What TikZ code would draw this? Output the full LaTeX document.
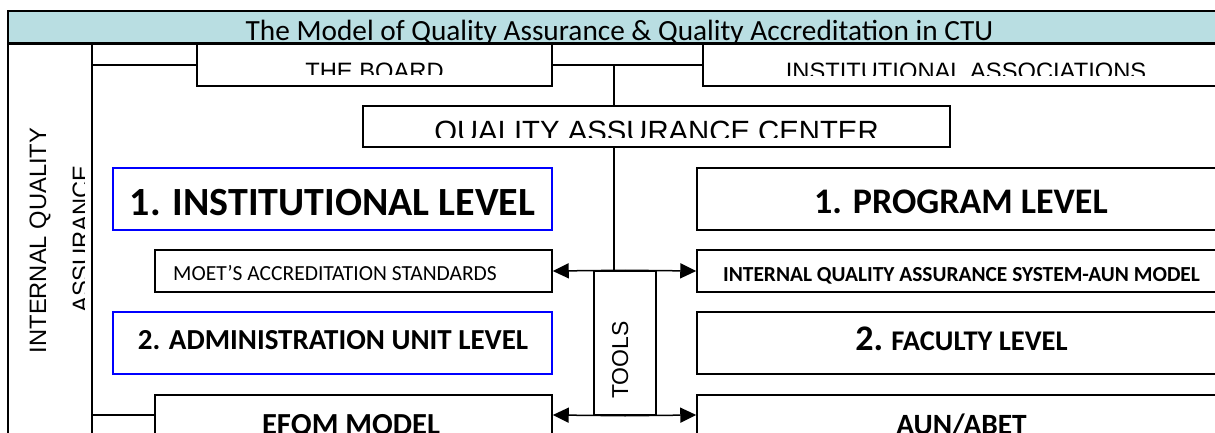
\documentclass[tikz,border=0pt]{standalone}
\usepackage{fontspec}
\setmainfont{Carlito}
\newfontfamily\arialf{Liberation Sans}
\usetikzlibrary{arrows.meta}
\definecolor{titlefill}{RGB}{185,222,226}
\definecolor{boxblue}{RGB}{0,0,255}
\begin{document}
\begin{tikzpicture}[x=1pt,y=-1pt,
  bx/.style={draw=black, line width=1.5pt, inner sep=0pt, fill=white},
  bluebx/.style={bx, draw=boxblue},
  ln/.style={line width=1.5pt},
  arr/.style={line width=1.5pt, -{Triangle[length=16pt,width=15pt]}},
  txt/.style={inner sep=0pt, anchor=base},
  arialtxt/.style={txt, font=\arialf\fontsize{23.7}{28}\selectfont},
  boldtxt/.style={txt, font=\bfseries\fontsize{#1}{#1}\selectfont},
]
\useasboundingbox (0,0) rectangle (1215,433);
\clip (0,0) rectangle (1215,433);

% title bar
\node[draw, line width=1.5pt, fill=titlefill, minimum width=1223pt, minimum height=32pt, inner sep=0pt] (title) at (619.5,27) {};
\draw[line width=3pt] (title.south west) -- (title.south east);
\begin{scope}
\clip (8,11) rectangle (1231,42);
\node[txt, font=\fontsize{29.3}{32}\selectfont] (ttitle) at (619.5,41) {The Model of Quality Assurance \& Quality Accreditation in CTU};
\end{scope}

% left column
\node[bx, fill=none, minimum width=84pt, minimum height=400pt] (leftcol) at (50,243) {};
\begin{scope}
\clip (8,43) rectangle (92,433);
\node[arialtxt, rotate=90] (tiqa1) at (46,240.5) {INTERNAL QUALITY};
\end{scope}
\begin{scope}
\clip (8,43) rectangle (84,433);
\node[arialtxt, rotate=90] (tiqa2) at (89,239) {ASSURANCE};
\end{scope}

% top boxes
\node[bx, minimum width=355pt, minimum height=42pt] (board) at (374.5,65) {};
\begin{scope}
\clip (197,44) rectangle (552,75);
\node[arialtxt] (tboard) at (374.5,80) {THE BOARD};
\end{scope}

\node[bx, minimum width=528pt, minimum height=42pt] (assoc) at (967,65) {};
\begin{scope}
\clip (703,44) rectangle (1231,76);
\node[arialtxt] (tassoc) at (966,80) {INSTITUTIONAL ASSOCIATIONS};
\end{scope}

\node[bx, minimum width=587pt, minimum height=41pt] (qac) at (656.5,126.5) {};
\begin{scope}
\clip (363,106) rectangle (950,138);
\node[txt, font=\arialf\fontsize{29.3}{32}\selectfont] (tqac) at (656.5,142) {QUALITY ASSURANCE CENTER};
\end{scope}

% level boxes
\node[bluebx, minimum width=439pt, minimum height=62pt] (inst) at (332.5,199) {};
\node[boldtxt=40] (tinst) at (332.5,215) {1. INSTITUTIONAL LEVEL};

\node[bx, minimum width=529pt, minimum height=62pt] (prog) at (961.5,199) {};
\node[boldtxt=36] (tprog) at (961,213) {1. PROGRAM LEVEL};

\node[bx, minimum width=397pt, minimum height=42pt] (moet) at (353.5,271) {};
\node[txt, anchor=base west, font=\fontsize{21.5}{24}\selectfont] (tmoet) at (173,280) {MOET’S ACCREDITATION STANDARDS};

\node[bx, minimum width=529pt, minimum height=42pt] (iqa) at (961.5,271) {};
\node[boldtxt=21.4] (tiqa) at (961.5,281) {INTERNAL QUALITY ASSURANCE SYSTEM-AUN MODEL};

\node[bx, minimum width=62pt, minimum height=144pt] (tools) at (625,343) {};
\node[txt, rotate=90, font=\arialf\fontsize{23}{26}\selectfont] (ttools) at (628,360) {TOOLS};

\node[bluebx, minimum width=439pt, minimum height=62pt] (admin) at (332.5,343) {};
\node[boldtxt=29] (tadmin) at (333,349.5) {2. ADMINISTRATION UNIT LEVEL};

\node[bx, minimum width=529pt, minimum height=62pt] (fac) at (961.5,343) {};
\node[txt, font=\bfseries] (tfac) at (961.5,350) {\fontsize{36}{36}\selectfont 2.\ \fontsize{28.5}{30}\selectfont FACULTY LEVEL};

\node[bx, minimum width=397pt, minimum height=40pt] (efqm) at (353.5,415) {};
\node[boldtxt=30.6] (tefqm) at (351,434.5) {EFQM MODEL};

\node[bx, minimum width=529pt, minimum height=40pt] (aun) at (961.5,415) {};
\node[boldtxt=29.4] (taun) at (961.5,434) {AUN/ABET};

% connectors
\coordinate (jn) at (614,65);
\draw[ln] (leftcol.east |- board.west) -- (board.west);
\draw[ln] (board.east) -- (assoc.west);
\draw[ln] (jn) -- (jn |- qac.north);
\draw[ln] (jn |- qac.south) -- (jn |- tools.north);
\draw[arr] (tools.north) -- (moet.east);
\draw[arr] (tools.north) -- (iqa.west);
\draw[arr] (tools.south) -- (efqm.east);
\draw[arr] (tools.south) -- (aun.west);
\draw[ln] (leftcol.east |- efqm.west) -- (efqm.west);
\end{tikzpicture}
\end{document}
